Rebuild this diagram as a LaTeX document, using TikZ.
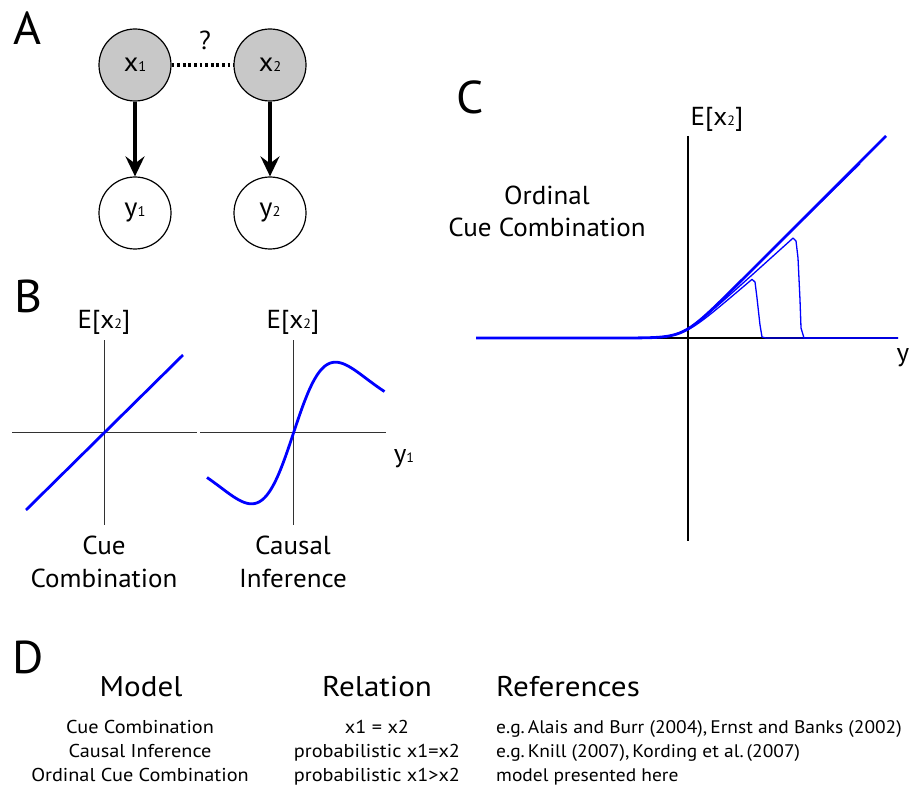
\documentclass[tikz,border=0pt]{standalone}
\usepackage{fontspec}
\usepackage{graphicx}
\setmainfont[FakeStretch=1.04]{PT Sans}
\newfontfamily\tablefont[FakeStretch=1.09]{PT Sans}
\newfontfamily\citefont[FakeStretch=1.07]{PT Sans}
\usetikzlibrary{arrows.meta}
\newcommand{\idx}[1]{\scalebox{0.52}{#1}}
\definecolor{curveblue}{RGB}{0,0,255}
\definecolor{axisgray}{RGB}{50,50,50}
\definecolor{nodegray}{RGB}{200,200,200}
\begin{document}
\begin{tikzpicture}[x=1pt,y=-1pt,
  panel/.style={font=\fontsize{46}{46}\selectfont, inner sep=0pt},
  lbl/.style={font=\fontsize{26}{26}\selectfont, inner sep=0pt},
  latent/.style={circle, draw, line width=1.2pt, fill=nodegray, minimum size=72pt,
                 inner sep=0pt, font=\fontsize{27}{27}\selectfont},
  observed/.style={latent, fill=white},
  causes/.style={-{Stealth[length=20pt,width=19pt,inset=7pt]}, line width=3.2pt},
  undecided/.style={line width=3.5pt, dash pattern=on 2.8pt off 2.8pt},
  axisB/.style={draw=axisgray, line width=1.6pt},
  axisC/.style={draw=black, line width=1.2pt},
  thickcurve/.style={draw=curveblue, line width=2.8pt, line join=round},
  thincurve/.style={draw=curveblue, line width=1.3pt, line join=round},
  hdr/.style={font=\tablefont\fontsize{28.5}{28.5}\selectfont, anchor=base, inner sep=0pt},
  row/.style={font=\tablefont\fontsize{18.6}{18.6}\selectfont, anchor=base, inner sep=0pt},
  cite/.style={font=\citefont\fontsize{18.2}{18.2}\selectfont, anchor=base west, inner sep=0pt},
]
\useasboundingbox (0,0) rectangle (910,786);

% ---------- panel A: graphical model ----------
\node[panel] (labA) at (27,28) {A};
\node[latent] (x1) at (135,65) {x\idx{1}};
\node[latent] (x2) at (270,65) {x\idx{2}};
\node[observed] (y1) at (135,213) {y\idx{1}};
\node[observed] (y2) at (270,213) {y\idx{2}};
\draw[causes] (x1) -- (y1);
\draw[causes] (x2) -- (y2);
\draw[undecided] (x1) -- (x2);
\node[lbl] (q) at (205,40) {?};

% ---------- panel B: two response functions ----------
\node[panel] (labB) at (28,296) {B};
\draw[axisB] (12,432.5) -- (197,432.5);
\draw[axisB] (104.5,340) -- (104.5,525);
\draw[axisB] (200,432.5) -- (386,432.5);
\draw[axisB] (293.5,340) -- (293.5,525);
\draw[thickcurve] (26,510) -- (183,355);
\draw[thickcurve] plot[domain=-86.5:91, samples=120]
  ({293.5+\x}, {433 - 3.0*\x/((1+(\x/72.7)^2)^2)});
\node[lbl] (eb1) at (104,322) {E[x\idx{2}]};
\node[lbl] (eb2) at (293,322) {E[x\idx{2}]};
\node[lbl] (cc1) at (104,545) {Cue};
\node[lbl] (cc2) at (104,578) {Combination};
\node[lbl] (ci1) at (293,545) {Causal};
\node[lbl] (ci2) at (293,578) {Inference};
\node[lbl] (yb) at (404,459) {y\idx{1}};

% ---------- panel C: ordinal cue combination ----------
\node[panel] (labC) at (470,97) {C};
\draw[axisC] (476,338) -- (898,338);
\draw[axisC] (688,136) -- (688,541);
\node[lbl] (ec) at (717,119) {E[x\idx{2}]};
\node[lbl] (oc1) at (547,195) {Ordinal};
\node[lbl] (oc2) at (547,227) {Cue Combination};
\node[lbl] (yc) at (903,358) {y};
% curves truncated at the two largest values of x1
\draw[thincurve] plot[domain=476:752, samples=90]
  (\x, {338 - 8.5*max((\x-683)/10, ln(1+exp(min((\x-683)/10,8))))})
  -- (755,282) -- (757,298) -- (760,325) -- (762,337) -- (766,338) -- (898,338);
\draw[thincurve] plot[domain=476:793, samples=100]
  (\x, {338 - 9*max((\x-682)/10, ln(1+exp(min((\x-682)/10,8))))})
  -- (796,241) -- (798,258) -- (800,300) -- (801,328) -- (804,338) -- (898,338);
\draw[thincurve] plot[domain=476:860, samples=110]
  (\x, {338 - 9.85*max((\x-683)/10, ln(1+exp(min((\x-683)/10,8))))});
\draw[thickcurve] plot[domain=476:886, samples=120]
  (\x, {338 - 10*max((\x-684)/10, ln(1+exp(min((\x-684)/10,8))))});

% ---------- panel D: summary table ----------
\node[panel] (labD) at (28,657) {D};
\node[hdr] (hm) at (141,696) {Model};
\node[hdr] (hr) at (377,696) {Relation};
\node[hdr, anchor=base west] (hf) at (496,696) {References};
\node[row] (m1) at (140,733) {Cue Combination};
\node[row] (m2) at (140,757) {Causal Inference};
\node[row] (m3) at (140,781) {Ordinal Cue Combination};
\node[row] (r1) at (377,733) {x1 = x2};
\node[row] (r2) at (377,757) {probabilistic x1=x2};
\node[row] (r3) at (377,781) {probabilistic x1>x2};
\node[cite] (f1) at (496,733) {e.g.\,Alais and Burr (2004),\,Ernst and Banks (2002)};
\node[cite] (f2) at (496,757) {e.g.\,Knill (2007),\,Kording et al.\,(2007)};
\node[cite] (f3) at (496,781) {model presented here};
\end{tikzpicture}
\end{document}
